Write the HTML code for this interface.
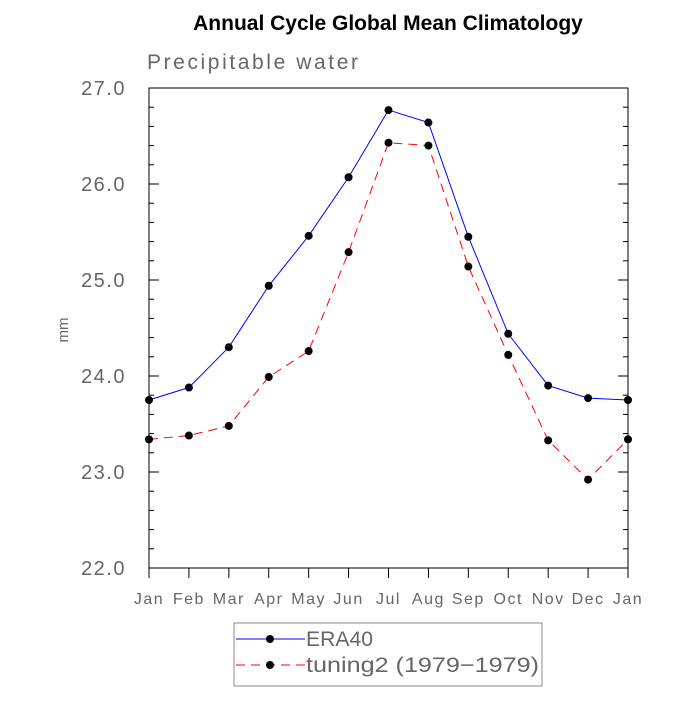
<!DOCTYPE html>
<html><head><meta charset="utf-8"><style>
body{margin:0;background:#fff;width:700px;height:700px;overflow:hidden}
text{font-family:"Liberation Sans",sans-serif}
</style></head><body>
<svg id="chart" width="700" height="700" xmlns="http://www.w3.org/2000/svg">
<text x="388" y="30" text-anchor="middle" font-size="21" font-weight="bold" fill="#000">Annual Cycle Global Mean Climatology</text>
<text x="147" y="69" font-size="21" fill="#666" textLength="211" lengthAdjust="spacing">Precipitable water</text>
<text transform="translate(68,330) rotate(-90)" text-anchor="middle" font-size="15" fill="#666">mm</text>
<rect x="149" y="88" width="479" height="480" fill="none" stroke="#000" stroke-width="1"/>
<g id="axes"></g>
<g id="series"></g>
<g>
<rect x="234" y="623" width="308" height="63" fill="none" stroke="#888" stroke-width="1"/>
<line x1="236" y1="639" x2="305" y2="639" stroke="#0000ff" stroke-width="1"/>
<circle cx="270" cy="639" r="4" fill="#000"/>
<text x="306" y="646" font-size="21" fill="#666" textLength="67" lengthAdjust="spacingAndGlyphs">ERA40</text>
<line x1="236" y1="665" x2="305" y2="665" stroke="#ff0000" stroke-width="1" stroke-dasharray="9,6"/>
<circle cx="270" cy="665" r="4" fill="#000"/>
<text x="306" y="672" font-size="21" fill="#666" textLength="233" lengthAdjust="spacingAndGlyphs">tuning2 (1979−1979)</text>
</g>
</svg>
<script>
const months=["Jan","Feb","Mar","Apr","May","Jun","Jul","Aug","Sep","Oct","Nov","Dec","Jan"];
const era40=[23.75,23.88,24.30,24.94,25.46,26.07,26.77,26.64,25.45,24.44,23.90,23.77,23.75];
const tuning2=[23.34,23.38,23.48,23.99,24.26,25.29,26.43,26.40,25.14,24.22,23.33,22.92,23.34];
const yTicks=["22.0","23.0","24.0","25.0","26.0","27.0"];
const NS="http://www.w3.org/2000/svg";
const x0=149,x1=628,y0=568,y1=88,ymin=22,ymax=27;
const X=i=>x0+(x1-x0)*i/(months.length-1);
const Y=v=>y0-(v-ymin)/(ymax-ymin)*(y0-y1);
function mk(t,a,p){const e=document.createElementNS(NS,t);for(const k in a)e.setAttribute(k,a[k]);p.appendChild(e);return e;}
const ax=document.getElementById('axes');
months.forEach((m,i)=>{
 const l=mk('line',{x1:X(i),x2:X(i),y1:y0,y2:y0+10,stroke:'#000'},ax);
 
 
 const t=mk('text',{x:X(i),y:604,'text-anchor':'middle','font-size':'16',fill:'#666','letter-spacing':'1.5'},ax);
 t.textContent=m;
 
 
});
for(let k=0;k<=25;k++){
 const v=ymin+k*0.2,y=Y(v),maj=k%5===0,len=maj?10:5;
 mk('line',{x1:x0,x2:x0+len,y1:y,y2:y,stroke:'#000'},ax);
 mk('line',{x1:x1,x2:x1-len,y1:y,y2:y,stroke:'#000'},ax);
}
yTicks.forEach(s=>{
 const t=mk('text',{x:126,y:Y(parseFloat(s))+7,'text-anchor':'end','font-size':'20',fill:'#666','letter-spacing':'1.5'},ax);
 t.textContent=s;
 
 
});
const sg=document.getElementById('series');
function draw(vals,color,dash,name){
 const pl=mk('polyline',{points:vals.map((v,i)=>X(i)+','+Y(v)).join(' '),fill:'none',stroke:color,'stroke-width':1,'stroke-dasharray':dash},sg);
 
 
 vals.forEach((v,i)=>{
  const c=mk('circle',{cx:X(i),cy:Y(v),r:4,fill:'#000'},sg);
  
  
 });
}
draw(era40,'#0000ff','none','era40');
draw(tuning2,'#ff0000','9,6','tuning2');
</script>
</body></html>
